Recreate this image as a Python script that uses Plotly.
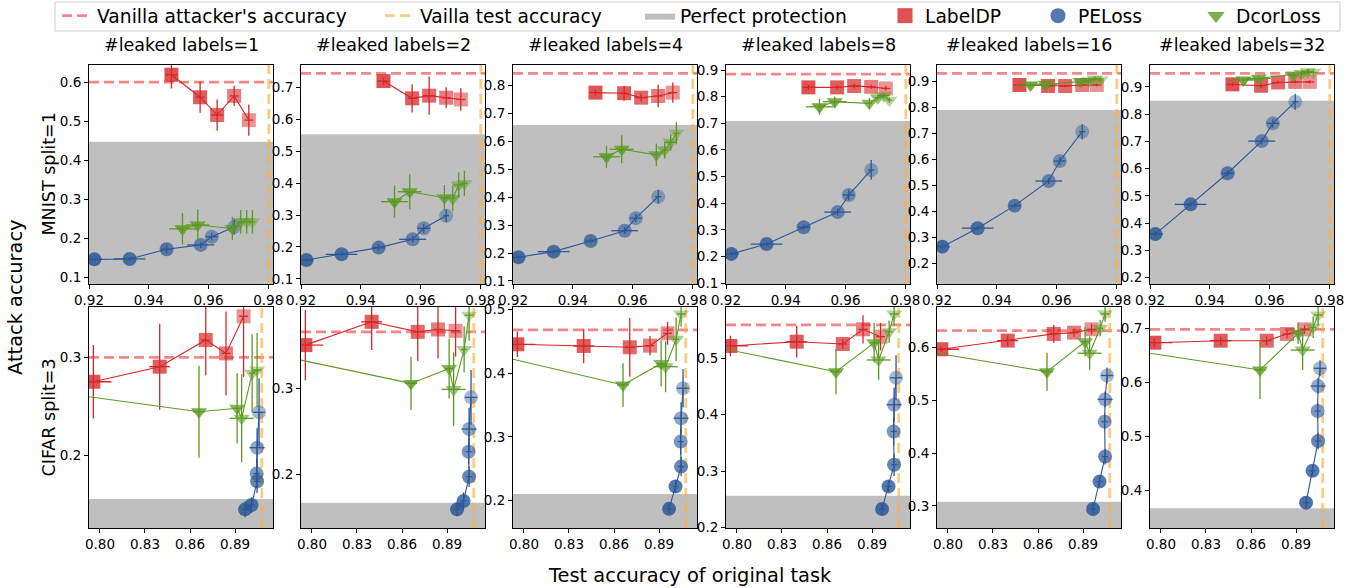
import plotly.graph_objects as go

W, H = 1364, 588
FONT = "DejaVu Sans"

leaked = [1, 2, 4, 8, 16, 32]
row_names = ["MNIST split=1", "CIFAR split=3"]

# ---------------- MNIST split=1 (top row) ----------------
mnist_xrange = [0.92, 0.9816]
mnist_xticks = [0.92, 0.94, 0.96, 0.98]
mnist_yrange = [[0.084, 0.644], [0.084, 0.770], [0.089, 0.874],
                [0.097, 0.919], [0.120, 0.964], [0.177, 0.980]]
mnist_perfect = [0.448, 0.553, 0.659, 0.709, 0.791, 0.849]
mnist_vanilla_attack = [0.600, 0.744, 0.844, 0.885, 0.932, 0.949]
mnist_vanilla_test = 0.9802

mnist_labeldp_x = [0.9476, 0.9572, 0.9629, 0.9686, 0.9735]
mnist_labeldp_xerr = [0.002, 0.0015, 0.002, 0.0015, 0.0015]
mnist_labeldp_y = [
    [0.619, 0.5616, 0.516, 0.565, 0.503],
    [0.7197, 0.6656, 0.674, 0.6675, 0.662],
    [0.775, 0.773, 0.757, 0.763, 0.775],
    [0.835, 0.835, 0.840, 0.837, 0.831],
    [0.887, 0.883, 0.883, 0.887, 0.887],
    [0.909, 0.904, 0.916, 0.918, 0.918],
]
mnist_labeldp_yerr = [
    [0.035, 0.040, 0.040, 0.026, 0.040],
    [0.012, 0.044, 0.060, 0.033, 0.035],
    [0.010, 0.027, 0.015, 0.040, 0.036],
    [0.010, 0.008, 0.010, 0.008, 0.008],
    [0.006, 0.005, 0.005, 0.006, 0.006],
    [0.008, 0.008, 0.006, 0.006, 0.006],
]

mnist_peloss_x = [0.9218, 0.9336, 0.9460, 0.9574, 0.9611, 0.9686]
mnist_peloss_xerr = [0.0025, 0.0053, 0.002, 0.0045, 0.002, 0.001]
mnist_peloss_y = [
    [0.147, 0.148, 0.173, 0.184, 0.205, 0.230],
    [0.159, 0.177, 0.198, 0.224, 0.2585, 0.298],
    [0.185, 0.205, 0.243, 0.280, 0.325, 0.402],
    [0.210, 0.247, 0.310, 0.367, 0.431, 0.525],
    [0.264, 0.335, 0.422, 0.517, 0.594, 0.707],
    [0.360, 0.469, 0.583, 0.701, 0.766, 0.845],
]
mnist_peloss_yerr = [
    [0.005, 0.005, 0.010, 0.008, 0.010, 0.020],
    [0.006, 0.006, 0.010, 0.010, 0.015, 0.020],
    [0.006, 0.006, 0.010, 0.012, 0.015, 0.025],
    [0.006, 0.008, 0.010, 0.012, 0.020, 0.037],
    [0.008, 0.008, 0.010, 0.012, 0.015, 0.030],
    [0.008, 0.008, 0.010, 0.012, 0.015, 0.030],
]

mnist_dcor_x = [0.9513, 0.9564, 0.9680, 0.9708, 0.9728, 0.9747]
mnist_dcor_xerr = [0.0045, 0.004, 0.001, 0.001, 0.002, 0.001]
mnist_dcor_y = [
    [0.225, 0.235, 0.226, 0.243, 0.243, 0.243],
    [0.342, 0.373, 0.354, 0.352, 0.394, 0.399],
    [0.545, 0.572, 0.552, 0.569, 0.597, 0.629],
    [0.762, 0.781, 0.775, 0.796, 0.804, 0.787],
    [0.887, 0.890, 0.900, 0.902, 0.910, 0.906],
    [0.925, 0.931, 0.943, 0.949, 0.955, 0.953],
]
mnist_dcor_yerr = [
    [0.040, 0.040, 0.030, 0.030, 0.030, 0.030],
    [0.050, 0.055, 0.040, 0.040, 0.040, 0.040],
    [0.040, 0.050, 0.040, 0.030, 0.030, 0.040],
    [0.030, 0.020, 0.020, 0.010, 0.010, 0.010],
    [0.010, 0.010, 0.010, 0.010, 0.010, 0.010],
    [0.010, 0.010, 0.010, 0.010, 0.010, 0.010],
]

# ---------------- CIFAR split=3 (bottom row) ----------------
cifar_xrange = [0.7927, 0.9153]
cifar_xticks = [0.80, 0.83, 0.86, 0.89]
cifar_yrange = [[0.1253, 0.3515], [0.137, 0.395], [0.157, 0.5036],
                [0.1995, 0.5908], [0.2583, 0.677], [0.3295, 0.7395]]
cifar_perfect = [0.155, 0.1665, 0.2105, 0.2566, 0.308, 0.366]
cifar_vanilla_attack = [0.300, 0.366, 0.4676, 0.559, 0.6322, 0.698]
cifar_vanilla_test = 0.9078

cifar_labeldp_x = [0.7956, 0.8398, 0.8705, 0.8840, 0.8957]
cifar_labeldp_xerr = [0.012, 0.007, 0.003, 0.003, 0.003]
cifar_labeldp_y = [
    [0.275, 0.2904, 0.3177, 0.304, 0.342],
    [0.3505, 0.3777, 0.366, 0.3688, 0.3672],
    [0.4451, 0.4425, 0.4404, 0.443, 0.4624],
    [0.5218, 0.5294, 0.5253, 0.5513, 0.5382],
    [0.597, 0.6133, 0.626, 0.6284, 0.6348],
    [0.6733, 0.677, 0.677, 0.6894, 0.698],
]
cifar_labeldp_yerr = [
    [0.0375, 0.044, 0.036, 0.043, 0.062],
    [0.041, 0.033, 0.034, 0.034, 0.030],
    [0.020, 0.027, 0.046, 0.015, 0.018],
    [0.018, 0.028, 0.008, 0.025, 0.024],
    [0.005, 0.010, 0.017, 0.008, 0.010],
    [0.008, 0.008, 0.008, 0.008, 0.008],
]

cifar_peloss_x = [0.8967, 0.9010, 0.9047, 0.9044, 0.9047, 0.9060]
cifar_peloss_xerr = [0.002, 0.002, 0.002, 0.002, 0.005, 0.004]
cifar_peloss_y = [
    [0.1444, 0.1488, 0.173, 0.181, 0.2075, 0.2437],
    [0.1588, 0.1685, 0.1969, 0.226, 0.2525, 0.2895],
    [0.187, 0.222, 0.2533, 0.2925, 0.3292, 0.3762],
    [0.2331, 0.2732, 0.3115, 0.3704, 0.4177, 0.4655],
    [0.2943, 0.3462, 0.3936, 0.4598, 0.5019, 0.5473],
    [0.3765, 0.4358, 0.4907, 0.5466, 0.5929, 0.6258],
]
cifar_peloss_yerr = [
    [0.008, 0.008, 0.012, 0.015, 0.020, 0.035],
    [0.008, 0.010, 0.012, 0.015, 0.025, 0.032],
    [0.008, 0.010, 0.015, 0.020, 0.025, 0.030],
    [0.010, 0.010, 0.020, 0.025, 0.030, 0.040],
    [0.010, 0.010, 0.015, 0.015, 0.015, 0.015],
    [0.010, 0.010, 0.015, 0.015, 0.015, 0.015],
]

cifar_dcor_x = [0.7000, 0.8660, 0.8914, 0.8944, 0.9014, 0.9047]
cifar_dcor_xerr = [0.005, 0.004, 0.003, 0.008, 0.002, 0.003]
cifar_dcor_y = [
    [0.2792, 0.2443, 0.2478, 0.2376, 0.2836, 0.287],
    [0.3674, 0.3058, 0.3233, 0.2988, 0.3455, 0.3855],
    [0.4726, 0.3813, 0.415, 0.410, 0.453, 0.4926],
    [0.5662, 0.4763, 0.5274, 0.497, 0.5471, 0.5784],
    [0.6335, 0.5545, 0.6114, 0.5894, 0.6367, 0.664],
    [0.6928, 0.6226, 0.6907, 0.6597, 0.7019, 0.7247],
]
cifar_dcor_yerr = [
    [0.030, 0.047, 0.036, 0.045, 0.040, 0.038],
    [0.030, 0.031, 0.035, 0.043, 0.027, 0.030],
    [0.030, 0.034, 0.036, 0.040, 0.034, 0.020],
    [0.030, 0.040, 0.035, 0.035, 0.020, 0.020],
    [0.030, 0.036, 0.028, 0.032, 0.015, 0.015],
    [0.030, 0.054, 0.020, 0.037, 0.020, 0.020],
]

labeldp_alpha = [0.8, 0.75, 0.7, 0.6, 0.5]
peloss_alpha = [0.85, 0.8, 0.72, 0.62, 0.52, 0.42]
dcor_alpha = [0.85, 0.8, 0.7, 0.6, 0.5, 0.42]

RED = "#d62728"
BLUE = "#2b5797"
GREEN = "#5b9a22"
VA_COLOR = "rgba(240,70,70,0.65)"
VT_COLOR = "rgba(255,175,60,0.65)"
GRAY = "#bfbfbf"

# layout geometry (pixels)
col_left = [89, 301, 513, 726, 937, 1150]
col_w = 184
row_box = [(65, 284), (307, 528)]

fig = go.Figure()


def ax_names(n):
    s = "" if n == 1 else str(n)
    return "x" + s, "y" + s, "xaxis" + s, "yaxis" + s


rows = [
    dict(xr=mnist_xrange, xt=mnist_xticks, yr=mnist_yrange, pp=mnist_perfect,
         va=mnist_vanilla_attack, vt=mnist_vanilla_test,
         ldx=mnist_labeldp_x, ldxe=mnist_labeldp_xerr, ldy=mnist_labeldp_y, ldye=mnist_labeldp_yerr,
         pex=mnist_peloss_x, pexe=mnist_peloss_xerr, pey=mnist_peloss_y, peye=mnist_peloss_yerr,
         dcx=mnist_dcor_x, dcxe=mnist_dcor_xerr, dcy=mnist_dcor_y, dcye=mnist_dcor_yerr),
    dict(xr=cifar_xrange, xt=cifar_xticks, yr=cifar_yrange, pp=cifar_perfect,
         va=cifar_vanilla_attack, vt=cifar_vanilla_test,
         ldx=cifar_labeldp_x, ldxe=cifar_labeldp_xerr, ldy=cifar_labeldp_y, ldye=cifar_labeldp_yerr,
         pex=cifar_peloss_x, pexe=cifar_peloss_xerr, pey=cifar_peloss_y, peye=cifar_peloss_yerr,
         dcx=cifar_dcor_x, dcxe=cifar_dcor_xerr, dcy=cifar_dcor_y, dcye=cifar_dcor_yerr),
]

axis_style = dict(showline=True, mirror=True, linecolor="black", linewidth=1,
                  ticks="outside", ticklen=4, tickwidth=1, tickcolor="black",
                  showgrid=False, zeroline=False, automargin=False,
                  tickfont=dict(family=FONT, size=13.5, color="black"))

layout_axes = {}
for r, R in enumerate(rows):
    top, bot = row_box[r]
    for c in range(6):
        n = r * 6 + c + 1
        xa, ya, xk, yk = ax_names(n)
        x0 = col_left[c] / W
        x1 = (col_left[c] + col_w) / W
        layout_axes[xk] = dict(domain=[x0, x1], range=R["xr"], anchor=ya,
                               tickvals=R["xt"], tickformat=".2f", **axis_style)
        layout_axes[yk] = dict(domain=[1 - bot / H, 1 - top / H], range=R["yr"][c],
                               anchor=xa, dtick=0.1, tick0=0, tickformat=".1f", **axis_style)
        xlo, xhi = R["xr"]
        ylo, yhi = R["yr"][c]
        # perfect protection region
        fig.add_trace(go.Scatter(
            x=[xlo, xhi, xhi, xlo, xlo], y=[ylo, ylo, R["pp"][c], R["pp"][c], ylo],
            fill="toself", fillcolor=GRAY, mode="lines", line=dict(width=0, color=GRAY),
            name="Perfect protection", legend="legend3", showlegend=(n == 1),
            hoverinfo="skip", xaxis=xa, yaxis=ya))
        # vanilla attacker's accuracy
        fig.add_trace(go.Scatter(
            x=[xlo, xhi], y=[R["va"][c], R["va"][c]], mode="lines",
            line=dict(color=VA_COLOR, width=2.8, dash="10px,5px"),
            name="Vanilla attacker's accuracy", legend="legend", showlegend=(n == 1),
            hoverinfo="skip", xaxis=xa, yaxis=ya))
        # vanilla test accuracy
        fig.add_trace(go.Scatter(
            x=[R["vt"], R["vt"]], y=[ylo, yhi], mode="lines",
            line=dict(color=VT_COLOR, width=2.8, dash="10px,5px"),
            name="Vailla test accuracy", legend="legend2", showlegend=(n == 1),
            hoverinfo="skip", xaxis=xa, yaxis=ya))
        for key, color, sym, size, alpha in [
            ("ld", RED, "square", 14, labeldp_alpha),
            ("pe", BLUE, "circle", 14, peloss_alpha),
            ("dc", GREEN, "triangle-down", 14, dcor_alpha),
        ]:
            fig.add_trace(go.Scatter(
                x=R[key + "x"], y=R[key + "y"][c], mode="lines+markers",
                line=dict(color=color, width=1.1),
                marker=dict(symbol=sym, size=size, color=color, opacity=alpha,
                            line=dict(width=0)),
                error_x=dict(type="data", array=R[key + "xe"], color=color,
                             thickness=1.3, width=0),
                error_y=dict(type="data", array=R[key + "ye"][c], color=color,
                             thickness=1.3, width=0),
                showlegend=False, hoverinfo="skip", xaxis=xa, yaxis=ya))

# legend-only marker entries
for name, color, sym, lg in [("LabelDP", RED, "square", "legend4"),
                             ("PELoss", BLUE, "circle", "legend5"),
                             ("DcorLoss", GREEN, "triangle-down", "legend6")]:
    fig.add_trace(go.Scatter(x=[None], y=[None], mode="markers", name=name,
                             marker=dict(symbol=sym, size=15, color=color, opacity=0.8,
                                         line=dict(width=0)),
                             legend=lg, showlegend=True))

legend_x_px = [57, 380, 640, 885, 1038, 1196]
legend_keys = ["legend", "legend2", "legend3", "legend4", "legend5", "legend6"]
legends = {}
for k, px in zip(legend_keys, legend_x_px):
    legends[k] = dict(x=px / W, y=1 - 16 / H, xanchor="left", yanchor="middle",
                      orientation="h", bgcolor="rgba(0,0,0,0)", borderwidth=0,
                      font=dict(family=FONT, size=18.7, color="black"))

annotations = []
for c, k in enumerate(leaked):
    annotations.append(dict(text=f"#leaked labels={k}", x=(col_left[c] + col_w / 2) / W,
                            y=1 - 45 / H, xref="paper", yref="paper", showarrow=False,
                            xanchor="center", yanchor="middle",
                            font=dict(family=FONT, size=17.5, color="black")))
for r, name in enumerate(row_names):
    top, bot = row_box[r]
    annotations.append(dict(text=name, x=48 / W, y=1 - (top + bot) / 2 / H,
                            xref="paper", yref="paper", showarrow=False, textangle=-90,
                            xanchor="center", yanchor="middle",
                            font=dict(family=FONT, size=17.5, color="black")))
annotations.append(dict(text="Attack accuracy", x=16 / W, y=1 - 297 / H, xref="paper",
                        yref="paper", showarrow=False, textangle=-90,
                        xanchor="center", yanchor="middle",
                        font=dict(family=FONT, size=19.4, color="black")))
annotations.append(dict(text="Test accuracy of original task", x=690 / W, y=1 - 575 / H,
                        xref="paper", yref="paper", showarrow=False,
                        xanchor="center", yanchor="middle",
                        font=dict(family=FONT, size=19.4, color="black")))

shapes = [dict(type="rect", xref="paper", yref="paper", x0=55 / W, x1=1340 / W,
               y0=1 - 31 / H, y1=1 - 2 / H, line=dict(color="#cccccc", width=1),
               fillcolor="white", layer="below")]

fig.update_layout(width=W, height=H, autosize=False, template="none",
                  margin=dict(l=0, r=0, t=0, b=0, pad=0, autoexpand=False),
                  paper_bgcolor="white", plot_bgcolor="white",
                  font=dict(family=FONT, color="black"),
                  annotations=annotations, shapes=shapes, **layout_axes, **legends)

fig.write_html("out.html",
               config={"displayModeBar": False},
               post_script="document.body.style.margin='0px';"
                           "document.body.style.overflow='hidden';")
